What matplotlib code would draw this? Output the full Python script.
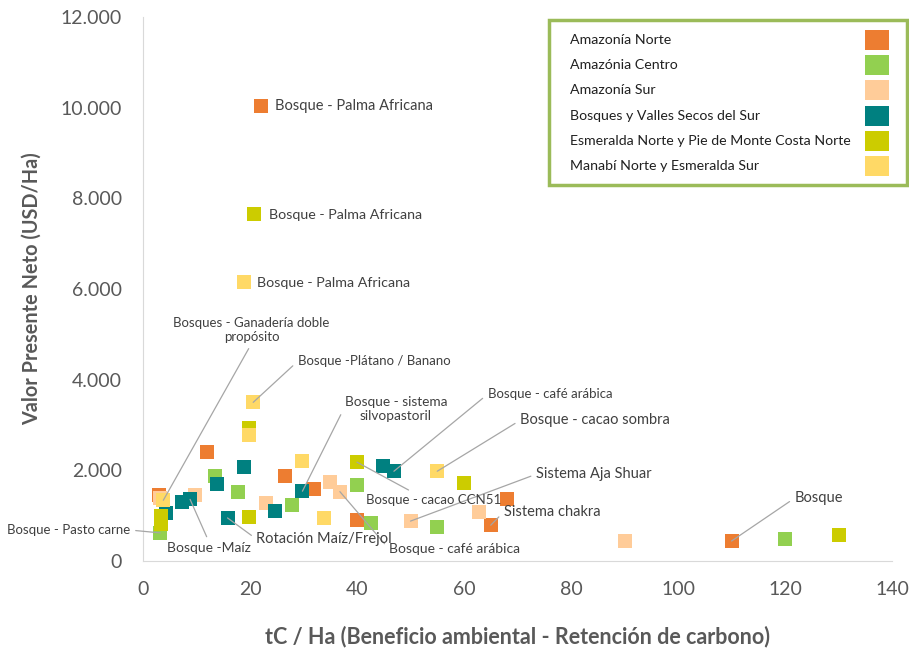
import numpy as np
import matplotlib
matplotlib.use("Agg")
import matplotlib.pyplot as plt
from matplotlib.ticker import FuncFormatter, MultipleLocator
from matplotlib.patches import Rectangle

plt.rcParams['font.family'] = ['Lato', 'DejaVu Sans']

# --- data (tC/Ha, VPN USD/Ha) ---
names = ["Amazonía Norte", "Amazónia Centro", "Amazonía Sur",
         "Bosques y Valles Secos del Sur",
         "Esmeralda Norte y Pie de Monte Costa Norte",
         "Manabí Norte y Esmeralda Sur"]
colors = ["#ED7D31", "#92D050", "#FFCC99", "#008080", "#CCCC00", "#FFD966"]

norte_x = [22, 12, 3, 26.5, 32, 40, 68, 65, 110]
norte_y = [10040, 2400, 1450, 1870, 1590, 900, 1370, 790, 440]

centro_x = [13.5, 17.8, 27.8, 40, 42.6, 55, 120, 3.2]
centro_y = [1870, 1520, 1230, 1670, 840, 750, 480, 620]

sur_x = [9.8, 22.9, 34.9, 36.8, 50, 62.8, 90, 3.2]
sur_y = [1450, 1280, 1740, 1530, 880, 1080, 440, 1380]

valles_x = [18.8, 13.9, 7.3, 8.8, 4.3, 15.8, 24.7, 29.8, 44.8, 46.9]
valles_y = [2070, 1700, 1300, 1360, 1060, 950, 1100, 1540, 2090, 1980]

esm_x = [20.8, 19.9, 19.9, 40, 60, 130, 3.4, 3.4]
esm_y = [7660, 2930, 970, 2180, 1720, 570, 1000, 820]

man_x = [18.8, 20.6, 19.9, 29.8, 33.8, 55, 3.8]
man_y = [6160, 3500, 2780, 2200, 950, 1980, 1340]

series_x = [norte_x, centro_x, sur_x, valles_x, esm_x, man_x]
series_y = [norte_y, centro_y, sur_y, valles_y, esm_y, man_y]

# labels: text, series, point index
labels = [
    ("Bosque - Palma Africana", 0, 0),
    ("Bosque - Palma Africana", 4, 0),
    ("Bosque - Palma Africana", 5, 0),
    ("Bosques - Ganadería doble\npropósito", 5, 6),
    ("Bosque -Plátano / Banano", 5, 1),
    ("Bosque - sistema\nsilvopastoril", 3, 7),
    ("Bosque - café arábica", 3, 9),
    ("Bosque - cacao sombra", 5, 5),
    ("Sistema Aja Shuar", 2, 4),
    ("Sistema chakra", 0, 7),
    ("Bosque", 0, 8),
    ("Bosque - cacao CCN51", 4, 3),
    ("Bosque - café arábica", 2, 3),
    ("Rotación Maíz/Frejol", 3, 5),
    ("Bosque -Maíz", 3, 3),
    ("Bosque - Pasto carne", 1, 7),
]
# label placement: (text x, text y, ha, relpos, leader line, fontsize)
label_place = [
    (24.6, 10040, "left", None, False, 10.5),
    (23.5, 7640, "left", None, False, 10.3),
    (21.4, 6140, "left", None, False, 10.3),
    (20.3, 5086, "center", (0.5, 0), True, 9.5),
    (28.9, 4403, "left", (0, 0.5), True, 9.5),
    (47.3, 3347, "center", (0, 0.6), True, 9.8),
    (64.4, 3677, "left", (0, 0.5), True, 9.5),
    (70.5, 3104, "left", (0, 0.5), True, 10.5),
    (73.5, 1915, "left", (0, 0.5), True, 10.5),
    (67.4, 1079, "left", (0, 0.5), True, 10.5),
    (121.8, 1387, "left", (0, 0.5), True, 10.5),
    (41.7, 1343, "left", (0.37, 1), True, 9.5),
    (46.0, 264, "left", (0, 0.5), True, 10),
    (21.2, 484, "left", (0, 0.5), True, 10.5),
    (4.5, 286, "left", (0.5, 1), True, 10),
    (-2.4, 683, "right", (1, 0.5), True, 9.5),
]

fig = plt.figure(figsize=(9.09, 6.5), dpi=100)
ax = fig.add_axes([143 / 909, 1 - 561 / 650, 749 / 909, 544 / 650])

for sx, sy, c, n in zip(series_x, series_y, colors, names):
    ax.scatter(sx, sy, marker="s", s=105, color=c, linewidths=0, label=n, zorder=3)

for (txt, si, pi), (tx, ty, ha, rel, line, fs) in zip(labels, label_place):
    px, py = series_x[si][pi], series_y[si][pi]
    if line:
        ax.annotate(txt, xy=(px, py), xytext=(tx, ty), ha=ha, va="center",
                    fontsize=fs, color="#404040", annotation_clip=False,
                    arrowprops=dict(arrowstyle="-", color="#A6A6A6", lw=0.9,
                                    shrinkA=2, shrinkB=0, relpos=rel),
                    zorder=4)
    else:
        ax.text(tx, ty, txt, ha=ha, va="center", fontsize=fs, color="#404040", zorder=4)

ax.set_xlim(0, 140)
ax.set_ylim(0, 12000)
ax.xaxis.set_major_locator(MultipleLocator(20))
ax.yaxis.set_major_locator(MultipleLocator(2000))
ax.yaxis.set_major_formatter(FuncFormatter(lambda v, p: f"{int(v):,}".replace(",", ".")))
ax.tick_params(length=0, labelsize=14, colors="#595959")
ax.tick_params(axis="y", pad=15)
ax.tick_params(axis="x", pad=14.5)
for s in ["top", "right"]:
    ax.spines[s].set_visible(False)
ax.spines["left"].set_color("#D9D9D9")
ax.spines["bottom"].set_color("#D9D9D9")

ax.set_xlabel("tC / Ha (Beneficio ambiental - Retención de carbono)", fontsize=15.5,
              fontweight="bold", color="#595959", labelpad=19.5)
ax.set_ylabel("Valor Presente Neto (USD/Ha)", fontsize=14.3, fontweight="bold",
              color="#595959", labelpad=14)

# legend box drawn in figure coordinates
W, H = 909, 650
lx0, ly0, lx1, ly1 = 549, 20, 907, 185
fig.patches.append(Rectangle((lx0 / W, 1 - ly1 / H), (lx1 - lx0) / W, (ly1 - ly0) / H,
                             transform=fig.transFigure, facecolor="white",
                             edgecolor="#9BBB59", lw=2.5, zorder=5))
for i, (n, c) in enumerate(zip(names, colors)):
    yc = 40 + i * 25.2
    fig.text(570 / W, 1 - yc / H, n, fontsize=10.2, color="#202020", va="center",
             ha="left", zorder=6)
    fig.patches.append(Rectangle((865 / W, 1 - (yc + 10) / H), 24 / W, 20 / H,
                                 transform=fig.transFigure, facecolor=c,
                                 edgecolor="none", zorder=6))

fig.savefig("out.png", dpi=100)
